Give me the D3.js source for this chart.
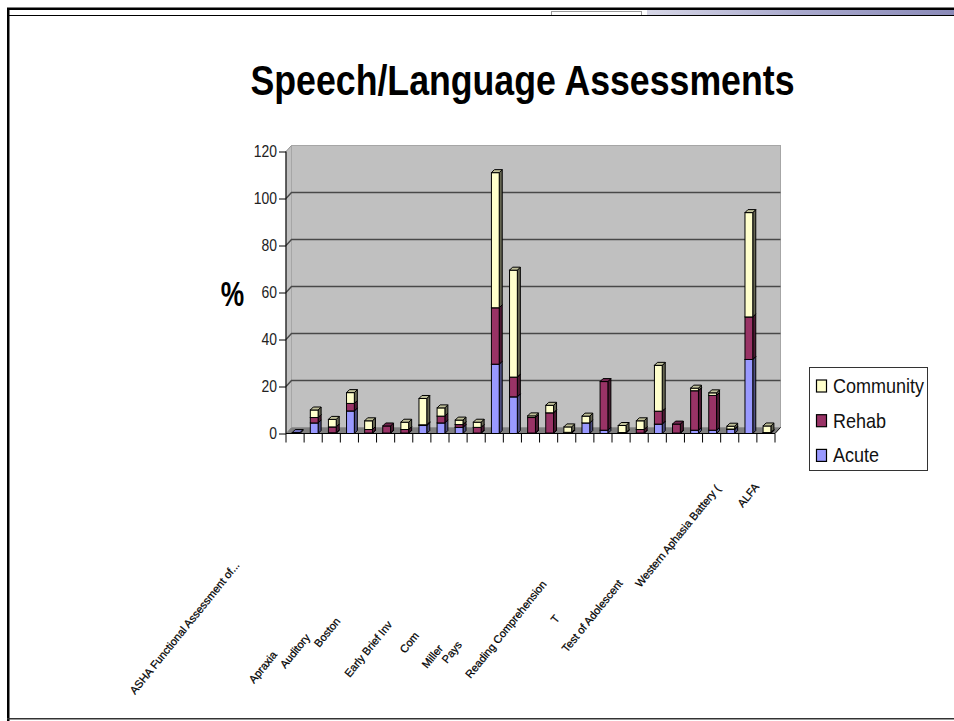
<!DOCTYPE html>
<html><head><meta charset="utf-8">
<script src="https://cdn.jsdelivr.net/npm/d3@7"></script>
<style>html,body{margin:0;padding:0;background:#fff}svg{display:block}text{font-family:"Liberation Sans",Arial,sans-serif}</style>
</head><body><svg id="c" width="954" height="721"></svg>
<script>
const categories = ["ASHA Functional Assessment of...","Apraxia","Auditory","Boston","","","Early Brief Inv","","Com","Miller","Pays","","","Reading Comprehension","","","","T","","Test of Adolescent","","","Western Aphasia Battery (","","","ALFA",""];
const acute = [0.4,4.5,0.3,9.6,0.2,0.2,0.2,3.4,4.5,2.6,0.2,29.5,15.6,0.2,0.2,0.2,4.5,1.4,0.2,0.2,4,0.2,1.4,1.4,1.7,31.5,0.2];
const rehab = [0,2.3,2.5,3.2,1.5,3,1.5,0.3,2.9,1.2,2.4,24,8.4,6.6,8.6,0.3,0,20.7,0.2,1.5,5.5,3.8,16.8,14.8,0.2,18.1,0.2];
const community = [0,3.2,3.2,4.6,3.7,0,3.1,11.2,3.5,1.9,2.2,57.5,45.5,0.7,3.2,2.3,2.9,0,3,3.7,19.5,0,1.1,1.1,1.2,44.4,2.8];
const seriesNames = ["Acute","Rehab","Community"];
const seriesValues = [acute, rehab, community];
const seriesFront = ["#9999ff","#993366","#ffffcc"];
const seriesTop = ["#7373bf","#732650","#bfbf99"];
const seriesSide = ["#4d4d80","#4d1a33","#666652"];
const yTicks = [0,20,40,60,80,100,120];
// Offsets of each visible label from its category tick, in category order
const labelOffsets = [[-151,261.5],[-50,250.5],[-37,235.5],[-21,214.5],[-45,244.5],[-26,220.5],[-22,235.5],[-20,230.5],[-51,245.5],[-38,190.5],[-63,219.5],[-44,154.5],[4,74.5]];

const svg = d3.select("#c");
const depthX = 5.5, depthY = 6;
const x = d3.scaleBand().domain(d3.range(categories.length)).range([286,775]);
const y = d3.scaleLinear().domain([0,120]).range([433.5,151.5]);
const x0 = x.range()[0], x1 = x.range()[1], yb = y(0), yt = y(120);

// Slide frame
const g = svg.append("defs").append("linearGradient").attr("id","band");
g.append("stop").attr("offset",0).attr("stop-color","#d6d6e6");
g.append("stop").attr("offset",0.5).attr("stop-color","#a8a8cc");
g.append("stop").attr("offset",1).attr("stop-color","#8a8ab8");
svg.append("rect").attr("x",647).attr("y",10).attr("width",307).attr("height",5).attr("fill","url(#band)");
svg.append("rect").attr("x",551.5).attr("y",11.5).attr("width",90).attr("height",4).attr("fill","#fff").attr("stroke","#999");
svg.append("rect").attr("x",7).attr("y",7.5).attr("width",947).attr("height",2.5).attr("fill","#000");
svg.append("rect").attr("x",9).attr("y",15).attr("width",945).attr("height",1).attr("fill","#000");
svg.append("rect").attr("x",7).attr("y",8).attr("width",2.5).attr("height",713).attr("fill","#000");
svg.append("rect").attr("x",7).attr("y",718).attr("width",947).attr("height",1.5).attr("fill","#333");

// Walls
const poly = pts => pts.map(p=>p.join(",")).join(" ");
svg.append("polygon").attr("points",poly([[x0,yb],[x0+depthX,yb-depthY],[x0+depthX,yt-depthY],[x0,yt]])).attr("fill","#c0c0c0").attr("stroke","#909090");
svg.append("rect").attr("x",x0+depthX).attr("y",yt-depthY).attr("width",x1-x0).attr("height",yb-yt).attr("fill","#c0c0c0").attr("stroke","#a6a6a6");
svg.append("polygon").attr("points",poly([[x0,yb],[x0+depthX,yb-depthY],[x1+depthX,yb-depthY],[x1,yb]])).attr("fill","#808080");

// Gridlines
yTicks.slice(1,-1).forEach(t=>{
  svg.append("path").attr("d",`M${x0},${y(t)}L${x0+depthX},${y(t)-depthY}H${x1+depthX}`).attr("fill","none").attr("stroke","#484848").attr("stroke-width",1.4);
});

// Axes
const yAxis = d3.axisLeft(y).tickValues(yTicks).tickSize(7).tickPadding(1);
const ya = svg.append("g").attr("transform",`translate(${x0},0)`).call(yAxis);
ya.select(".domain").attr("stroke","#000").attr("d",`M0,${yt}V${yb}`);
ya.selectAll("text").attr("font-size",16).attr("fill","#222").style("font-family","'Liberation Sans'").attr("transform","scale(0.87,1)").attr("x",-9/0.87);
const xt = svg.append("g");
d3.range(categories.length+1).forEach(i=>{
  const px = i<categories.length ? x(i) : x1;
  xt.append("line").attr("x1",px).attr("x2",px).attr("y1",yb).attr("y2",yb+9).attr("stroke","#000");
});
xt.append("line").attr("x1",x0).attr("x2",x1).attr("y1",yb).attr("y2",yb).attr("stroke","#000");
xt.append("line").attr("x1",x1).attr("x2",x1+depthX).attr("y1",yb).attr("y2",yb-depthY).attr("stroke","#000");

// Bars
const bw = 7.8, bo = 6.2, dx = 3, dy = 3;
const bars = svg.append("g").attr("stroke","#000").attr("stroke-width",1);
categories.forEach((c,i)=>{
  let sum = 0;
  seriesValues.forEach((vals,s)=>{
    const v = vals[i]; if(!v) return;
    const lo = y(sum), hi = y(sum+v); sum += v;
    const l = x(i)+bo, r = l+bw;
    bars.append("polygon").attr("points",poly([[r,lo],[r+dx,lo-dy],[r+dx,hi-dy],[r,hi]])).attr("fill",seriesSide[s]);
    bars.append("rect").attr("x",l).attr("y",hi).attr("width",bw).attr("height",lo-hi).attr("fill",seriesFront[s]);
    bars.append("polygon").attr("points",poly([[l,hi],[l+dx,hi-dy],[r+dx,hi-dy],[r,hi]])).attr("fill",seriesTop[s]);
  });
});

// Category labels
let k = 0;
categories.forEach((t,i)=>{
  if(!t) return;
  const o = labelOffsets[k++];
  svg.append("text").attr("transform",`translate(${x(i)+o[0]},${yb+o[1]}) rotate(-51)`).attr("font-size",11).attr("fill","#000").attr("stroke","#000").attr("stroke-width",0.25).text(t);
});

// Titles
svg.append("text").attr("transform","translate(522.5,94.5) scale(0.83,1)").attr("text-anchor","middle").attr("font-size",43).attr("font-weight","bold").attr("fill","#000").text("Speech/Language Assessments");
svg.append("text").attr("transform","translate(232.5,306) scale(0.85,1.15)").attr("text-anchor","middle").attr("font-size",31).attr("font-weight","bold").attr("fill","#000").text("%");

// Legend
svg.append("rect").attr("x",809.5).attr("y",367.5).attr("width",118).attr("height",103).attr("fill","#fff").attr("stroke","#333");
[2,1,0].forEach((s,j)=>{
  const cy = 386 + j*34.7;
  svg.append("rect").attr("x",816.5).attr("y",cy-6).attr("width",10).attr("height",12).attr("fill",seriesFront[s]).attr("stroke","#000").attr("stroke-width",1.2);
  svg.append("text").attr("transform",`translate(833,${cy+7}) scale(0.9,1)`).attr("font-size",20).attr("fill","#111").text(seriesNames[s]);
});
</script></body></html>
